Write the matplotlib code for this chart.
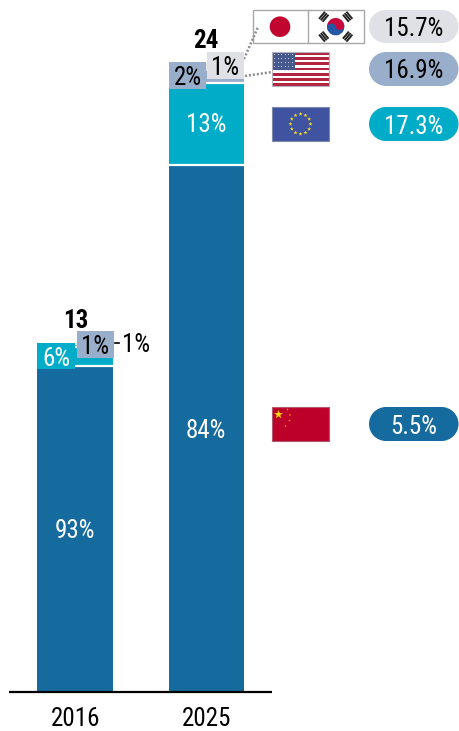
"""Stacked bars of EV market volume by region, with tariff pills per region."""

import matplotlib

matplotlib.use("Agg")
import matplotlib.pyplot as plt
import numpy as np
from matplotlib.patches import Circle, Polygon, Rectangle, Wedge

plt.rcParams["font.family"] = ["Roboto Condensed", "Archivo Narrow", "Liberation Sans", "DejaVu Sans"]

YEARS = ["2016", "2025"]
TOTALS = [13.35, 24.0]

# share of each year's total, bottom of the stack first
CHINA = [93.4, 84]
EU = [5.5, 13]
US = [0.55, 2]
JP_KR = [0.55, 1]

RATES = ["15.7%", "16.9%", "17.3%", "5.5%"]

BLUE = "#156a9e"
TEAL = "#00acc8"
STEEL = "#98aeca"
GREY = "#dfe1e6"
FLAG_RED = "#bd0029"
FONT = 18
W, H = 459, 731
PX_PER_UNIT = 26.15
BASE_Y = 692


def pct(value):
    return f"{value:.0f}%"


def label_box(ax, x0, y0, x1, y1, text, color, text_color="black"):
    ax.add_patch(Rectangle((x0, y0), x1 - x0, y1 - y0, fc=color, ec="none", zorder=3))
    ax.text((x0 + x1) / 2, (y0 + y1) / 2, text, color=text_color, fontsize=FONT,
            ha="center", va="center_baseline", zorder=4)


def pill(ax, y0, y1, text, color, text_color="black"):
    x0, x1 = 369, 458.5
    r = (y1 - y0) / 2
    ax.add_patch(Rectangle((x0 + r, y0), x1 - x0 - 2 * r, y1 - y0, fc=color, ec="none"))
    ax.add_patch(Circle((x0 + r, y0 + r), r, fc=color, ec="none"))
    ax.add_patch(Circle((x1 - r, y0 + r), r, fc=color, ec="none"))
    ax.text((x0 + x1) / 2 - 0.5, (y0 + y1) / 2, text, color=text_color, fontsize=FONT,
            ha="center", va="center_baseline", zorder=4)


def star(ax, cx, cy, r, color, zorder=5):
    angles = np.deg2rad(-90 + 36 * np.arange(10))
    radii = np.where(np.arange(10) % 2 == 0, r, r * 0.4)
    ax.add_patch(Polygon(np.c_[cx + radii * np.cos(angles), cy + radii * np.sin(angles)],
                         fc=color, ec="none", zorder=zorder))


def flag_us(ax, x0, y0, w, h):
    ax.add_patch(Rectangle((x0, y0), w, h, fc="white", ec="none"))
    stripe = h / 13
    for i in range(0, 13, 2):
        ax.add_patch(Rectangle((x0, y0 + i * stripe), w, stripe, fc="#b3243f", ec="none"))
    ax.add_patch(Rectangle((x0, y0), w * 0.4, stripe * 7, fc="#46598f", ec="none"))
    for row in range(5):
        for col in range(6):
            ax.plot(x0 + 2 + col * 3.6, y0 + 2 + row * 3.9, ".", ms=1.3, color="#d5dbe8", mew=0)
    ax.add_patch(Rectangle((x0, y0), w, h, fc="none", ec="#b4b0bc", lw=0.8))


def flag_eu(ax, x0, y0, w, h):
    ax.add_patch(Rectangle((x0, y0), w, h, fc="#3f53a0", ec="#7d88ab", lw=0.8))
    cx, cy = x0 + w / 2, y0 + h / 2
    for a in np.deg2rad(np.arange(0, 360, 30)):
        star(ax, cx + 10 * np.cos(a), cy + 10 * np.sin(a), 2.1, "#f4dc2a")


def flag_cn(ax, x0, y0, w, h):
    ax.add_patch(Rectangle((x0, y0), w, h, fc=FLAG_RED, ec="#b05a70", lw=0.8))
    star(ax, x0 + 6.5, y0 + 7.5, 4.6, "#ffd800")
    for dx, dy in [(15.5, 2.5), (18, 8), (17.5, 13.5), (13.5, 19)]:
        star(ax, x0 + dx, y0 + dy, 1.2, "#ffb400")


def flag_jp_kr(ax, x0, y0, x1, y1):
    mid = 308
    ax.add_patch(Rectangle((x0, y0), x1 - x0, y1 - y0, fc="white", ec="#a8a8a8", lw=1))
    ax.plot([mid, mid], [y0, y1], color="#a8a8a8", lw=1)
    cy = 26.7
    ax.add_patch(Circle((280, cy), 10.3, fc="#c0052f", ec="none"))
    cx = 335.7
    # taegeuk: red half above blue half, with the two small interlocking discs
    ax.add_patch(Wedge((cx, cy), 8.7, 165, 345, fc="#c6083a", ec="none", zorder=3))
    ax.add_patch(Wedge((cx, cy), 8.7, 345, 165, fc="#2258a5", ec="none", zorder=3))
    ax.add_patch(Circle((cx + 4.2, cy - 1), 4.3, fc="#c6083a", ec="none", zorder=4))
    ax.add_patch(Circle((cx - 4.2, cy + 1), 4.3, fc="#2258a5", ec="none", zorder=4))
    # trigrams in the four corners
    for sx, sy in [(-1, -1), (1, -1), (-1, 1), (1, 1)]:
        direction = np.array([sx * 0.77, sy * 0.64])
        normal = np.array([-sy * 0.64, sx * 0.77])
        centre = np.array([cx, cy]) + direction * 15.5
        for k in (-1, 0, 1):
            mid_pt = centre + direction * k * 2.3
            a = mid_pt - normal * 4.6
            b = mid_pt + normal * 4.6
            ax.plot([a[0], b[0]], [a[1], b[1]], color="#222222", lw=1.4, solid_capstyle="butt")


fig = plt.figure(figsize=(W / 100, H / 100), dpi=100)

ax = fig.add_axes([0, 0, 1, 1])
ax.set_xlim(-75.2 / 131.3, (W - 75.2) / 131.3)
ax.set_ylim((BASE_Y - H) / PX_PER_UNIT, BASE_Y / PX_PER_UNIT)

totals = np.array(TOTALS)
xs = np.arange(len(YEARS))
bottom = np.zeros(len(YEARS))
for shares, color in zip((CHINA, EU, US, JP_KR), (BLUE, TEAL, STEEL, GREY)):
    heights = totals * np.array(shares) / 100
    ax.bar(xs, heights, width=0.575, bottom=bottom, color=color, zorder=1)
    bottom = bottom + heights
    if color in (BLUE, TEAL):
        ax.hlines(bottom, xs - 0.2875, xs + 0.2875, color="white", lw=1.6, zorder=2)

for side in ax.spines.values():
    side.set_visible(False)
ax.set_yticks([])
ax.set_xticks(xs, YEARS)
ax.spines["bottom"].set_position(("data", 0))
ax.tick_params(axis="x", length=0, pad=10.5, labelsize=FONT)

# pixel-space overlay for annotations and flags
ov = fig.add_axes([0, 0, 1, 1])
ov.set_xlim(0, W)
ov.set_ylim(H, 0)
ov.axis("off")

ov.plot([9, 272], [BASE_Y, BASE_Y], color="black", lw=1.6, solid_capstyle="butt")

# shares on the bars
label_box(ov, 37, 343, 75, 369, pct(EU[0]), TEAL, "white")
label_box(ov, 77, 331, 114, 358, pct(US[0]), STEEL)
label_box(ov, 169, 62, 206, 89, pct(US[1]), STEEL)
label_box(ov, 207, 52, 244, 79, pct(JP_KR[1]), GREY)
ov.text(75, 529, pct(CHINA[0]), color="white", fontsize=FONT, ha="center", va="center_baseline")
ov.text(206, 429, pct(CHINA[1]), color="white", fontsize=FONT, ha="center", va="center_baseline")
ov.text(206, 123, pct(EU[1]), color="white", fontsize=FONT, ha="center", va="center_baseline")

# 2016 Japan/Korea share sits outside the bar
ov.plot([115, 119], [343, 343], color="black", lw=1.2)
ov.text(122, 343, pct(JP_KR[0]), fontsize=FONT, ha="left", va="center_baseline")

# totals
ov.text(75.5, 318, f"{TOTALS[0]:.0f}", fontsize=FONT, fontweight="bold", ha="center", va="center_baseline")
ov.text(206, 39, f"{TOTALS[1]:.0f}", fontsize=FONT, fontweight="bold", ha="center", va="center_baseline")

flag_jp_kr(ov, 252.5, 9.5, 363.5, 43)
flag_us(ov, 272, 52, 57, 34)
flag_eu(ov, 272, 107, 57, 34)
flag_cn(ov, 272, 407, 57, 34)

# leaders from the 2025 bar to the flags
ov.plot([244, 258], [59, 27], color="#8c8c8c", lw=1.8, ls=(0, (0.8, 0.8)))
ov.plot([245, 272], [76, 72], color="#8c8c8c", lw=1.8, ls=(0, (0.8, 0.8)))

pill(ov, 10, 43, RATES[0], GREY)
pill(ov, 52, 86, RATES[1], STEEL)
pill(ov, 107, 141, RATES[2], TEAL, "white")
pill(ov, 407, 441, RATES[3], BLUE, "white")

fig.savefig("out.png", dpi=100)
